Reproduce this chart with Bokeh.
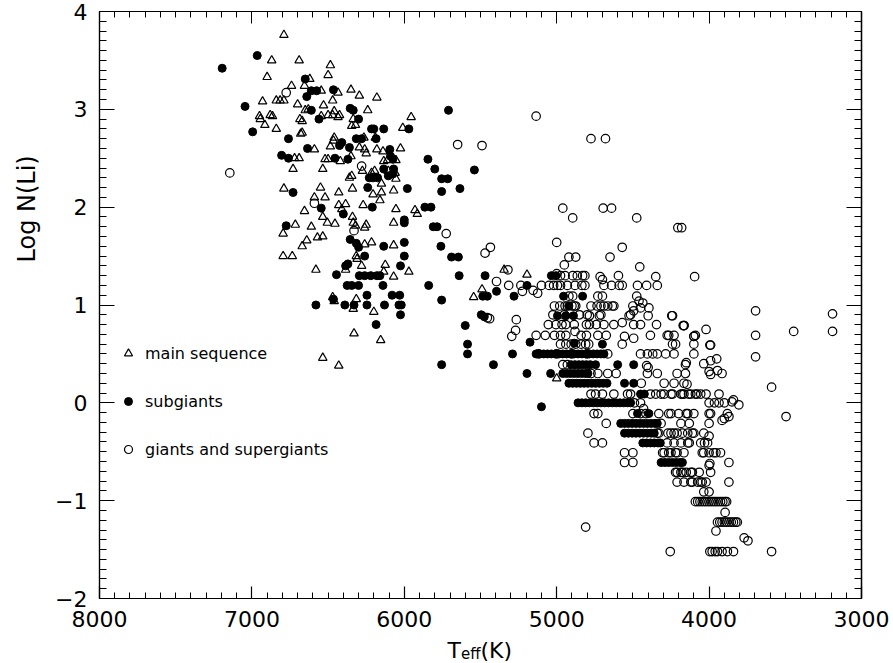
from bokeh.plotting import figure
from bokeh.models import (Range1d, SingleIntervalTicker, FixedTicker, LinearAxis, Legend,
                          LegendItem, Title, Label)
from bokeh.layouts import column
from bokeh.embed import file_html
from bokeh.resources import INLINE

# ---------------- data (Teff [K], log N(Li)) ----------------
main_sequence = [
    (6790,3.76),(6870,3.50),(6690,3.50),(6485,3.45),(6900,3.33),(6500,3.35),(6620,3.31),(6740,3.24),
    (6655,3.24),(6545,3.19),(6435,3.17),(6350,3.20),(6295,3.14),(6180,3.12),(6930,3.08),(6840,3.09),
    (6815,3.09),(6790,3.09),(6700,3.05),(6470,3.09),(6530,3.04),(6240,2.99),(6650,2.99),(6630,3.00),
    (6460,2.98),(5955,2.92),(6950,2.93),(6945,2.90),(6880,2.94),(6865,2.93),(6915,2.84),(6840,2.80),
    (6685,2.90),(6670,2.88),(6680,2.75),(6545,2.93),(6500,2.94),(6470,2.94),(6435,2.92),(6425,2.94),
    (6335,2.90),(6345,2.83),(6320,2.84),(6670,2.76),(6010,2.81),(6460,2.71),(6465,2.68),(6265,2.71),
    (6190,2.71),(6485,2.62),(6590,2.59),(6295,2.61),(6260,2.59),(6250,2.55),(6180,2.59),(6140,2.57),
    (6025,2.60),(6720,2.50),(6690,2.50),(6520,2.49),(6500,2.49),(6420,2.47),(6350,2.52),(6135,2.47),
    (6110,2.48),(6055,2.48),(6730,2.39),(6535,2.39),(6275,2.37),(6215,2.35),(6195,2.37),(6105,2.37),
    (6060,2.35),(6360,2.30),(6345,2.32),(6150,2.24),(6055,2.29),(6790,2.19),(6550,2.20),(6205,2.13),
    (6150,2.15),(6160,2.07),(6070,2.17),(6430,2.15),(6340,2.19),(6590,2.10),(6520,2.10),(6655,1.96),
    (6430,2.02),(6385,2.03),(6410,1.98),(6270,2.02),(6055,1.98),(5930,1.97),(5915,1.93),(6535,1.90),
    (6340,1.90),(6715,1.82),(6795,1.73),(6610,1.80),(6505,1.84),(6455,1.83),(6335,1.84),(6320,1.81),
    (6250,1.82),(6260,1.79),(6640,1.66),(6570,1.69),(6535,1.70),(6670,1.60),(6795,1.50),(6735,1.50),
    (6260,1.62),(6215,1.64),(6070,1.61),(6070,1.84),(6315,1.50),(6310,1.47),(6385,1.36),(6280,1.40),
    (6125,1.41),(6135,1.34),(5970,1.34),(6070,1.29),(6580,1.36),(6470,1.08),(6460,1.04),(6335,0.96),
    (6315,1.06),(6200,0.93),(6330,0.71),(6155,0.64),(6535,0.46),(6430,0.38),(5490,1.16),(5545,1.08),
    (5345,1.36),(5195,1.31),(5000,0.25),
]

subgiants = [
    (6965,3.55),(7195,3.42),(6650,3.31),(6610,3.19),(6575,3.19),(6465,3.20),(6640,3.13),(7045,3.03),
    (6355,3.01),(6335,2.99),(5710,2.99),(6610,2.99),(6560,2.90),(6300,2.90),(6995,2.77),(6215,2.80),
    (6200,2.80),(6135,2.80),(5970,2.80),(6760,2.70),(6410,2.66),(6425,2.63),(6315,2.70),(6280,2.70),
    (6185,2.70),(6635,2.60),(6360,2.61),(6095,2.59),(6805,2.53),(6760,2.50),(6455,2.50),(6370,2.49),
    (6090,2.52),(6075,2.49),(5845,2.49),(6230,2.30),(6205,2.30),(6175,2.30),(6135,2.39),(6070,2.39),
    (6105,2.32),(6075,2.34),(5800,2.39),(5755,2.29),(5715,2.29),(5540,2.38),(6730,2.15),(6240,2.20),
    (5980,2.19),(5755,2.16),(5635,2.19),(6545,1.99),(6400,1.93),(6210,2.00),(5865,2.00),(5825,2.00),
    (6000,1.87),(6775,1.81),(5810,1.80),(5785,1.80),(6000,1.84),(6355,1.67),(6315,1.63),(6300,1.59),
    (6135,1.60),(6000,1.64),(6000,1.50),(6260,1.50),(6385,1.40),(6370,1.42),(6025,1.40),(6445,1.31),
    (6295,1.30),(6260,1.30),(6220,1.30),(6180,1.30),(6160,1.30),(6375,1.20),(6345,1.20),(6300,1.20),
    (6140,1.20),(5840,1.20),(5640,1.30),(5760,1.60),(5690,1.49),(5645,1.49),(5470,1.30),(5395,1.14),
    (5485,1.09),(5455,1.09),(5495,0.90),(5475,0.88),(5600,0.79),(5585,0.60),(5585,0.50),(5755,0.39),
    (5415,0.39),(5755,1.05),(6580,1.00),(6465,1.06),(6390,1.00),(6330,1.00),(6245,1.00),(6130,1.00),
    (6035,1.00),(6020,1.00),(6245,1.10),(6080,1.10),(6030,1.10),(6025,0.90),(6185,0.80),(5280,1.09),
    (5195,1.20),(5035,1.30),(5005,1.30),(4955,1.09),(4830,1.09),(4920,0.99),(4995,0.89),(4940,0.89),
    (4890,0.89),(5175,0.62),(4885,0.61),(4700,0.60),(5290,0.50),(5100,-0.04),
    (5135,0.50),(5110,0.50),(5085,0.50),(5060,0.50),(5035,0.50),(5010,0.50),(4985,0.50),(4960,0.50),
    (4935,0.50),(4910,0.50),(4885,0.50),(4860,0.50),(4835,0.50),(4810,0.50),(4785,0.50),(4760,0.50),
    (4735,0.50),(4710,0.50),(4690,0.50),
    (4905,0.39),(4880,0.39),(4855,0.39),(4830,0.39),(4805,0.39),(4780,0.39),(4745,0.39),(4600,0.39),
    (4495,0.39),
    (5195,0.30),(5040,0.30),(4960,0.30),(4935,0.30),(4910,0.30),(4885,0.30),(4860,0.30),(4835,0.30),
    (4810,0.30),(4795,0.30),
    (4920,0.20),(4895,0.20),(4870,0.20),(4845,0.20),(4820,0.20),(4795,0.20),(4770,0.20),(4745,0.20),
    (4720,0.20),(4695,0.20),(4670,0.20),(4555,0.20),(4495,0.20),
    (4450,0.09),(4425,0.09),
    (4860,0.00),(4835,0.00),(4810,0.00),(4785,0.00),(4760,0.00),(4735,0.00),(4710,0.00),(4685,0.00),
    (4660,0.00),(4635,0.00),(4610,0.00),(4585,0.00),(4560,0.00),(4535,0.00),(4515,0.00),
    (4470,-0.11),(4395,-0.11),
    (4580,-0.21),(4555,-0.21),(4530,-0.21),(4505,-0.21),(4480,-0.21),(4455,-0.21),(4430,-0.21),
    (4405,-0.21),(4380,-0.21),(4355,-0.21),(4340,-0.21),
    (4555,-0.31),(4530,-0.31),(4505,-0.31),(4480,-0.31),(4455,-0.31),(4430,-0.31),(4405,-0.31),
    (4380,-0.31),(4360,-0.31),
    (4435,-0.41),(4410,-0.41),(4385,-0.41),(4360,-0.41),(4335,-0.41),(4320,-0.41),
    (4315,-0.61),(4290,-0.61),(4265,-0.61),(4240,-0.61),(4215,-0.61),(4190,-0.61),(4175,-0.61),
]

giants = [
    (7145,2.35),(6775,3.17),(6280,2.42),(6590,2.04),(6330,1.76),(5725,1.73),(5650,2.64),(5490,2.63),
    (5135,2.93),(4775,2.70),(4680,2.70),(5435,1.59),(5470,1.53),(5395,1.24),(5455,0.87),(5440,0.86),
    (5320,1.36),(5315,1.20),(5235,1.20),(5225,1.14),(5155,1.15),(5125,1.12),
    (5100,1.20),(5050,1.20),(5020,1.20),(4995,1.20),(4975,1.20),(4930,1.20),(4880,1.20),(4835,1.20),
    (4815,1.20),(4690,1.20),(4640,1.20),(4590,1.20),(4570,1.20),(4470,1.20),(4410,1.20),(4340,1.20),
    (5000,1.32),(4975,1.30),(4945,1.30),(4895,1.30),(4865,1.30),(4830,1.30),(4815,1.30),(4715,1.29),
    (4700,1.26),(4595,1.30),(4350,1.29),
    (4960,1.99),(4895,1.89),(4695,1.99),(4640,1.99),(4475,1.89),(5000,1.64),(4920,1.49),(4875,1.49),
    (4950,1.41),(4650,1.49),(4570,1.59),(4455,1.39),(4205,1.79),(4180,1.79),(4095,1.29),
    (4920,1.09),(4895,1.09),(4730,1.09),(4700,1.09),(4475,1.09),(4460,1.04),(4435,1.02),
    (5015,0.99),(4945,0.99),(4885,0.99),(4775,0.99),(4710,0.99),(4665,0.99),(4625,0.99),(4980,0.99),
    (4930,0.99),(4900,0.99),(4875,0.99),(4735,0.99),(4690,0.99),(4635,0.99),(4500,0.99),(4395,0.97),
    (4450,0.97),(4495,0.94),
    (5025,0.90),(4950,0.90),(4850,0.90),(4800,0.90),(4710,0.90),(4785,0.89),(4720,0.89),(4525,0.89),
    (4400,0.89),(4240,0.89),(4515,0.90),(5265,0.85),(5270,0.74),(5295,0.68),
    (5055,0.80),(5005,0.80),(4965,0.80),(4940,0.80),(4885,0.80),(4805,0.80),(4785,0.80),(4740,0.80),
    (4690,0.80),(4625,0.80),(4570,0.82),(4495,0.80),(4450,0.80),(4345,0.80),(4170,0.79),(4165,0.79),
    (5135,0.69),(5075,0.69),(5015,0.69),(4975,0.69),(4940,0.69),(4880,0.73),(4840,0.69),(4805,0.69),
    (4730,0.69),(4675,0.69),(4555,0.68),(4495,0.66),(4385,0.69),(4275,0.69),(4265,0.69),(4230,0.69),
    (4090,0.69),(4100,0.68),
    (4975,0.60),(4940,0.60),(4905,0.60),(4875,0.60),(4840,0.60),(4810,0.60),(4790,0.60),(4570,0.60),
    (4240,0.60),(4220,0.60),(4100,0.60),(3990,0.59),
    (5120,0.50),(5000,0.50),(4900,0.50),(4800,0.50),(4665,0.50),(4450,0.50),(4405,0.50),(4370,0.50),
    (4340,0.50),(4285,0.50),(4230,0.50),(4100,0.50),
    (4960,0.39),(4930,0.39),(4410,0.38),(4400,0.36),(4155,0.39),(4150,0.41),(4035,0.40),(3990,0.43),
    (3945,0.33),(3950,0.45),
    (4775,0.30),(4730,0.30),(4665,0.30),(4610,0.30),(4405,0.30),(4340,0.30),(4210,0.30),(4155,0.30),
    (4000,0.32),(3990,0.29),(3915,0.30),
    (4445,0.20),(4295,0.20),(4230,0.20),(4165,0.20),(4145,0.19),
    (4775,0.09),(4745,0.09),(4700,0.09),(4625,0.09),(4535,0.09),(4515,0.09),(4385,0.09),(4350,0.09),
    (4295,0.09),(4240,0.09),(4185,0.09),(4165,0.09),(4120,0.09),(4090,0.09),(4055,0.09),(4020,0.09),
    (3935,0.09),(4315,0.09),(4250,0.09),(4175,0.09),(4135,0.09),(4080,0.09),
    (4490,0.00),(4450,0.00),(4430,-0.06),(4000,0.00),(3965,0.00),(3935,0.00),(3900,0.00),(3840,0.03),
    (3805,-0.02),(3850,0.01),
    (4755,-0.11),(4730,-0.11),(4500,-0.11),(4450,-0.11),(4415,-0.11),(4330,-0.11),(4265,-0.11),
    (4250,-0.11),(4200,-0.11),(4140,-0.11),(4150,-0.11),(4100,-0.11),(3990,-0.11),(4000,-0.11),
    (3880,-0.11),(3870,-0.14),(3900,-0.16),(3915,-0.18),
    (4675,-0.21),(4315,-0.21),(4185,-0.21),(4130,-0.21),(4000,-0.21),
    (4795,-0.31),(4340,-0.31),(4330,-0.31),(4270,-0.31),(4250,-0.31),(4230,-0.31),(4210,-0.31),
    (4175,-0.31),(4140,-0.31),(4110,-0.31),(4100,-0.31),(4035,-0.31),(4000,-0.34),
    (4755,-0.41),(4700,-0.41),(4275,-0.41),(4230,-0.41),(4185,-0.41),(4140,-0.41),(4130,-0.41),
    (4055,-0.41),(4030,-0.41),(4010,-0.41),
    (4555,-0.51),(4500,-0.51),(4305,-0.51),(4295,-0.51),(4265,-0.51),(4250,-0.51),(4220,-0.51),
    (4210,-0.51),(4165,-0.51),(4045,-0.51),(4035,-0.51),(4000,-0.51),(3970,-0.51),(3955,-0.51),
    (3925,-0.51),
    (4555,-0.61),(4500,-0.61),(4000,-0.64),(3870,-0.61),(3995,-0.62),
    (4220,-0.71),(4210,-0.71),(4185,-0.71),(4175,-0.71),(4150,-0.71),(4120,-0.71),(4110,-0.71),
    (4065,-0.71),(3990,-0.71),
    (4210,-0.81),(4165,-0.81),(4120,-0.81),(4110,-0.81),(4075,-0.81),(4055,-0.81),(4045,-0.81),
    (4020,-0.81),(3870,-0.81),
    (4035,-0.91),(4000,-0.91),
    (4090,-1.01),(4075,-1.01),(4060,-1.01),(4045,-1.01),(4030,-1.01),(4015,-1.01),(4000,-1.01),
    (3985,-1.01),(3970,-1.01),(3955,-1.01),(3940,-1.01),(3925,-1.01),(3910,-1.01),(3895,-1.01),
    (3885,-1.01),
    (3895,-1.12),
    (3945,-1.22),(3930,-1.22),(3915,-1.22),(3900,-1.22),(3885,-1.22),(3870,-1.22),(3855,-1.22),
    (3840,-1.22),(3825,-1.22),(3815,-1.22),
    (3955,-1.31),(3770,-1.38),(3745,-1.41),(4810,-1.27),
    (4255,-1.52),(3995,-1.52),(3980,-1.52),(3960,-1.52),(3945,-1.52),(3915,-1.52),(3880,-1.52),
    (3840,-1.52),(3590,-1.52),
    (3695,0.94),(3190,0.91),(3445,0.73),(3190,0.73),(3695,0.69),(3695,0.47),(3590,0.16),(3495,-0.14),
    (4245,0.89),(4165,0.79),(4100,0.68),(3995,0.59),(4020,0.75),
]

legend_labels = ["main sequence", "subgiants", "giants and supergiants"]
y_title = "Log N(Li)"
x_title_parts = ["T", "eff", "(K)"]
x_major_step = 1000
y_major_step = 1

ms_teff = [p[0] for p in main_sequence]
ms_logn = [p[1] for p in main_sequence]
sg_teff = [p[0] for p in subgiants]
sg_logn = [p[1] for p in subgiants]
gi_teff = [p[0] for p in giants]
gi_logn = [p[1] for p in giants]

FONT = "DejaVu Sans"
BORDER_L, BORDER_R = 98, 32

p = figure(width=893, height=638, output_backend="svg", toolbar_location=None, title=None,
           x_range=Range1d(8000, 3000), y_range=Range1d(-2, 4),
           min_border_left=BORDER_L, min_border_right=BORDER_R, min_border_top=11,
           min_border_bottom=40, background_fill_color="white", border_fill_color="white")
p.grid.visible = False
p.outline_line_color = "black"
p.outline_line_width = 1.2


def style_axis(ax, major, minor, show_labels=True):
    ax.major_tick_in = major
    ax.major_tick_out = 0
    ax.minor_tick_in = minor
    ax.minor_tick_out = 0
    ax.axis_line_color = "black"
    ax.axis_line_width = 1.2
    ax.major_tick_line_color = "black"
    ax.minor_tick_line_color = "black"
    ax.major_tick_line_width = 1.2
    ax.minor_tick_line_width = 1.0
    if show_labels:
        ax.major_label_text_font = FONT
        ax.major_label_text_font_size = "22px"
        ax.major_label_text_color = "black"
        ax.major_label_standoff = 12
    else:
        ax.major_label_standoff = 0


p.xaxis[0].ticker = SingleIntervalTicker(interval=x_major_step, num_minor_ticks=10)
p.yaxis[0].ticker = SingleIntervalTicker(interval=y_major_step, num_minor_ticks=10)
style_axis(p.xaxis[0], 12, 6)
style_axis(p.yaxis[0], 15, 7)
p.yaxis[0].major_label_overrides = {-2: "\u22122", -1: "\u22121"}

# mirrored tick marks on the top and right frame edges (no labels)
x_minor_pos = list(range(3000, 8001, 100))
x_major_pos = list(range(3000, 8001, x_major_step))
y_minor_pos = [round(-2 + 0.1 * i, 1) for i in range(61)]
y_major_pos = list(range(-2, 5, y_major_step))
for pos, ln in ((x_minor_pos, 6), (x_major_pos, 12)):
    ax = LinearAxis(ticker=FixedTicker(ticks=[], minor_ticks=pos))
    style_axis(ax, 0, ln, False)
    p.add_layout(ax, "above")
for pos, ln in ((y_minor_pos, 7), (y_major_pos, 15)):
    ax = LinearAxis(ticker=FixedTicker(ticks=[], minor_ticks=pos))
    style_axis(ax, 0, ln, False)
    p.add_layout(ax, "right")

r_gi = p.scatter(gi_teff, gi_logn, marker="circle", size=8.5, fill_alpha=0,
                 line_color="black", line_width=1.2)
r_sg = p.scatter(sg_teff, sg_logn, marker="circle", size=8, fill_color="black",
                 line_color="black", line_width=1)
r_ms = p.scatter(ms_teff, ms_logn, marker="triangle", size=8.5, fill_alpha=0,
                 line_color="black", line_width=1.2)

legend = Legend(items=[LegendItem(label=legend_labels[0], renderers=[r_ms]),
                       LegendItem(label=legend_labels[1], renderers=[r_sg]),
                       LegendItem(label=legend_labels[2], renderers=[r_gi])],
                location=(19, 139), orientation="vertical",
                padding=0, margin=0, spacing=28, glyph_height=20, glyph_width=20,
                label_height=20, label_standoff=7,
                label_text_font=FONT, label_text_font_size="16px", label_text_color="black",
                border_line_alpha=0, background_fill_alpha=0)
p.add_layout(legend)

# y-axis title
ytitle = Title(text=y_title, align="left", offset=336, vertical_align="middle", standoff=22,
               text_font=FONT, text_font_size="24px", text_font_style="normal",
               text_color="black")
p.add_layout(ytitle, "left")

# x-axis title with a subscript: a thin text-only strip below the plot, whose frame is
# aligned with the plot frame above it
strip = figure(width=893, height=25, output_backend="svg", toolbar_location=None, title=None,
               x_range=Range1d(0, 1), y_range=Range1d(0, 1),
               x_axis_type=None, y_axis_type=None,
               min_border_left=BORDER_L, min_border_right=BORDER_R,
               min_border_top=0, min_border_bottom=0,
               outline_line_color=None, background_fill_color="white",
               border_fill_color="white")
strip.grid.visible = False
for txt, sx, sy, fs in ((x_title_parts[0], 348, 13, "22px"),
                        (x_title_parts[1], 361.5, 10, "15px"),
                        (x_title_parts[2], 381, 13, "22px")):
    strip.add_layout(Label(x=sx, y=sy, x_units="screen", y_units="screen", text=txt,
                           text_align="left", text_baseline="alphabetic",
                           text_font=FONT, text_font_size=fs, text_color="black"))

layout = column(p, strip, spacing=0)

open("out.html", "w").write(file_html(layout, INLINE))
